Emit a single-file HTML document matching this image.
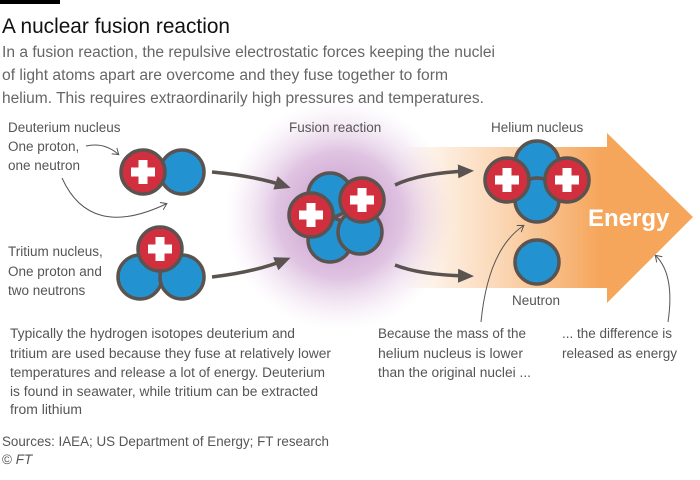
<!DOCTYPE html>
<html><head><meta charset="utf-8"><style>
html,body{margin:0;padding:0;background:#fff;}
svg{display:block;font-family:"Liberation Sans",sans-serif;}
</style></head><body>
<svg width="700" height="480" viewBox="0 0 700 480" xmlns="http://www.w3.org/2000/svg">
<defs>
<linearGradient id="og" x1="400" y1="0" x2="600" y2="0" gradientUnits="userSpaceOnUse">
<stop offset="0" stop-color="#f5a65b" stop-opacity="0"/>
<stop offset="0.5" stop-color="#f5a65b" stop-opacity="0.45"/>
<stop offset="1" stop-color="#f5a65b" stop-opacity="1"/>
</linearGradient>
<radialGradient id="pg" cx="340" cy="215" r="115" gradientUnits="userSpaceOnUse">
<stop offset="0" stop-color="#b57bbd" stop-opacity="0.85"/>
<stop offset="0.55" stop-color="#c592c9" stop-opacity="0.55"/>
<stop offset="1" stop-color="#e6cde8" stop-opacity="0"/>
</radialGradient>
<marker id="ah" markerWidth="16" markerHeight="16" refX="10" refY="8" orient="auto" markerUnits="userSpaceOnUse"><path d="M0,1 L16,8 L0,15 Z" fill="#5a5350"/></marker>
<marker id="th" markerWidth="10" markerHeight="10" refX="5" refY="5" orient="auto" markerUnits="userSpaceOnUse"><path d="M0,1 L6,5 L0,9" fill="none" stroke="#555" stroke-width="1"/></marker>
<g id="p"><circle r="22" fill="#d12f3e" stroke="#5a5350" stroke-width="3.5"/><rect x="-12" y="-4.5" width="24" height="9" fill="#fff"/><rect x="-4.5" y="-12" width="9" height="24" fill="#fff"/></g>
<g id="n"><circle r="22" fill="#2292d0" stroke="#5a5350" stroke-width="3.5"/></g>
</defs>
<rect x="0" y="0" width="60" height="4" fill="#000"/>
<text x="2" y="33" font-size="21" fill="#111" textLength="228" lengthAdjust="spacingAndGlyphs">A nuclear fusion reaction</text>
<g font-size="15.5" fill="#666">
<text x="2" y="57" textLength="493" lengthAdjust="spacingAndGlyphs">In a fusion reaction, the repulsive electrostatic forces keeping the nuclei</text>
<text x="2" y="80" textLength="446" lengthAdjust="spacingAndGlyphs">of light atoms apart are overcome and they fuse together to form</text>
<text x="2" y="103" textLength="482" lengthAdjust="spacingAndGlyphs">helium. This requires extraordinarily high pressures and temperatures.</text>
</g>
<path d="M400,147 L607,147 L607,133 L693,217 L607,303 L607,288 L400,288 Z" fill="url(#og)"/>
<circle cx="340" cy="215" r="115" fill="url(#pg)"/>
<g font-size="13.5" fill="#555">
<text x="8" y="132">Deuterium nucleus</text>
<text x="8" y="151">One proton,</text>
<text x="8" y="170">one neutron</text>
<text x="8" y="256">Tritium nucleus,</text>
<text x="8" y="276">One proton and</text>
<text x="8" y="295">two neutrons</text>
<text x="289" y="132">Fusion reaction</text>
<text x="491" y="132">Helium nucleus</text>
<text x="512" y="305">Neutron</text>
</g>
<path d="M86,146 Q104,142 118,154" fill="none" stroke="#555" stroke-width="1" marker-end="url(#th)"/>
<path d="M62,178 Q90,240 166,204" fill="none" stroke="#555" stroke-width="1" marker-end="url(#th)"/>
<use href="#n" x="182" y="172"/><use href="#p" x="143" y="172"/>
<use href="#n" x="140" y="277"/><use href="#n" x="182" y="277"/><use href="#p" x="160" y="249"/>
<use href="#n" x="330" y="195"/><use href="#n" x="330" y="240"/><use href="#n" x="360" y="232"/>
<use href="#p" x="311" y="215"/><use href="#p" x="362" y="200"/>
<use href="#n" x="537" y="163"/><use href="#n" x="537" y="200"/>
<use href="#p" x="507" y="180"/><use href="#p" x="567" y="180"/>
<use href="#n" x="537" y="262"/>
<g fill="none" stroke="#5a5350" stroke-width="3.5">
<path d="M212,172 Q255,176 285,186" marker-end="url(#ah)"/>
<path d="M212,277 Q255,272 285,260" marker-end="url(#ah)"/>
<path d="M395,185 Q420,173 468,171" marker-end="url(#ah)"/>
<path d="M395,265 Q420,275 468,276" marker-end="url(#ah)"/>
</g>
<text x="588" y="226" font-size="24" font-weight="bold" fill="#fff">Energy</text>
<path d="M481,322 Q488,250 523,226" fill="none" stroke="#555" stroke-width="1" marker-end="url(#th)"/>
<path d="M668,322 Q675,275 656,256" fill="none" stroke="#555" stroke-width="1" marker-end="url(#th)"/>
<g font-size="13.5" fill="#555">
<text x="10" y="338" textLength="285" lengthAdjust="spacingAndGlyphs">Typically the hydrogen isotopes deuterium and</text>
<text x="10" y="358" textLength="321" lengthAdjust="spacingAndGlyphs">tritium are used because they fuse at relatively lower</text>
<text x="10" y="377" textLength="315" lengthAdjust="spacingAndGlyphs">temperatures and release a lot of energy. Deuterium</text>
<text x="10" y="396" textLength="308" lengthAdjust="spacingAndGlyphs">is found in seawater, while tritium can be extracted</text>
<text x="10" y="414" textLength="72" lengthAdjust="spacingAndGlyphs">from lithium</text>
<text x="378" y="338" textLength="148" lengthAdjust="spacingAndGlyphs">Because the mass of the</text>
<text x="378" y="358" textLength="145" lengthAdjust="spacingAndGlyphs">helium nucleus is lower</text>
<text x="378" y="377" textLength="153" lengthAdjust="spacingAndGlyphs">than the original nuclei ...</text>
<text x="562" y="338" textLength="110" lengthAdjust="spacingAndGlyphs">... the difference is</text>
<text x="562" y="358" textLength="115" lengthAdjust="spacingAndGlyphs">released as energy</text>
<text x="2" y="446" textLength="327" lengthAdjust="spacingAndGlyphs">Sources: IAEA; US Department of Energy; FT research</text>
<text x="2" y="464">© <tspan font-style="italic">FT</tspan></text>
</g>
</svg>
</body></html>
